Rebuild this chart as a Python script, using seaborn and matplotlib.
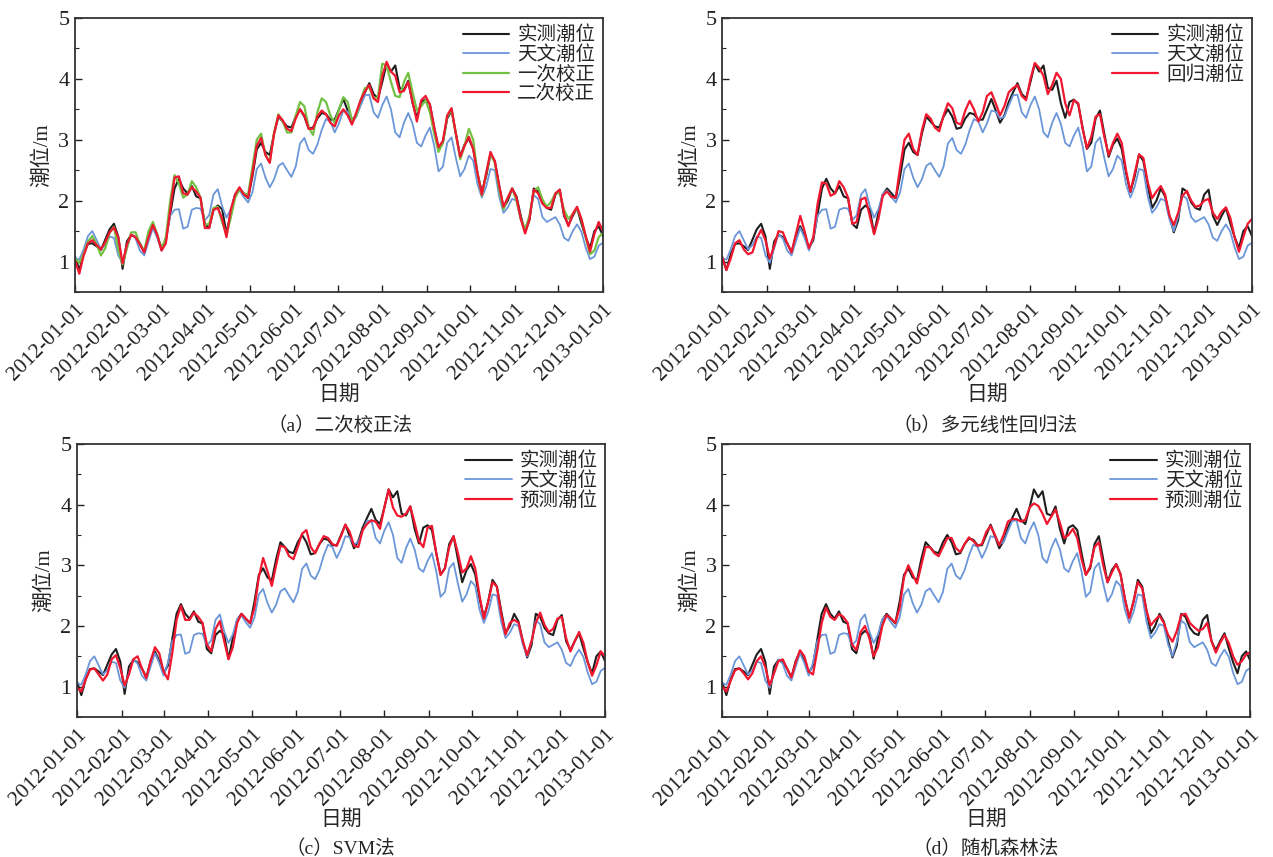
import pandas as pd
import matplotlib
matplotlib.use("Agg")
import matplotlib.pyplot as plt
import matplotlib.dates as mdates
import matplotlib.ticker as mticker
import seaborn as sns

# ── style ─────────────────────────────────────────────────────────────────────
sns.set_theme(style="ticks")
FONTS = ["Liberation Serif", "Noto Sans CJK SC", "DejaVu Sans"]
plt.rcParams["font.family"] = FONTS
plt.rcParams["axes.unicode_minus"] = False

COLORS = {
    "observed": "#1e1e1e",
    "astro":    "#6b96d9",
    "first":    "#72c044",
    "pred":     "#f0172f",
}

# ── data: one value every 3 days, 2012-01-01 .. 2013-01-01 ─────────────────────
dates = pd.date_range("2012-01-01", periods=123, freq="3D")

observed = [
    1.08, 0.86, 1.12, 1.29, 1.30, 1.25, 1.19, 1.36, 1.53, 1.62,
    1.41, 0.88, 1.33, 1.44, 1.40, 1.30, 1.15, 1.42, 1.58, 1.42,
    1.22, 1.35, 1.78, 2.20, 2.36, 2.20, 2.12, 2.24, 2.07, 2.04,
    1.62, 1.55, 1.85, 1.92, 1.86, 1.46, 1.80, 2.10, 2.20, 2.12,
    2.04, 2.40, 2.84, 2.95, 2.80, 2.75, 3.10, 3.38, 3.30, 3.22,
    3.20, 3.38, 3.50, 3.38, 3.18, 3.20, 3.35, 3.44, 3.42, 3.33,
    3.33, 3.50, 3.67, 3.48, 3.28, 3.40, 3.62, 3.78, 3.93, 3.75,
    3.68, 3.95, 4.25, 4.12, 4.22, 3.85, 3.82, 3.97, 3.60, 3.36,
    3.62, 3.66, 3.58, 3.20, 2.85, 2.95, 3.35, 3.48, 3.10, 2.72,
    2.92, 3.02, 2.85, 2.45, 2.14, 2.40, 2.76, 2.65, 2.25, 1.88,
    2.00, 2.20, 2.07, 1.75, 1.48, 1.68, 2.20, 2.15, 1.97, 1.88,
    1.85, 2.10, 2.18, 1.75, 1.60, 1.75, 1.88, 1.63, 1.40, 1.22,
    1.50, 1.58, 1.42,
]

astro = [
    1.06, 1.03, 1.20, 1.42, 1.50, 1.35, 1.20, 1.27, 1.41, 1.39,
    1.10, 0.98, 1.22, 1.45, 1.38, 1.18, 1.10, 1.33, 1.55, 1.39,
    1.18, 1.39, 1.75, 1.85, 1.86, 1.54, 1.57, 1.85, 1.88, 1.87,
    1.68, 1.76, 2.10, 2.19, 1.91, 1.72, 1.86, 2.11, 2.17, 2.06,
    1.97, 2.14, 2.52, 2.61, 2.38, 2.22, 2.35, 2.57, 2.62, 2.50,
    2.39, 2.56, 2.94, 3.03, 2.83, 2.77, 2.92, 3.16, 3.34, 3.30,
    3.12, 3.27, 3.48, 3.46, 3.35, 3.38, 3.56, 3.73, 3.74, 3.45,
    3.36, 3.57, 3.71, 3.50, 3.12, 3.04, 3.28, 3.44, 3.26, 2.95,
    2.89, 3.07, 3.20, 2.90, 2.48, 2.56, 2.95, 3.04, 2.70, 2.40,
    2.52, 2.74, 2.66, 2.27, 2.05, 2.23, 2.52, 2.50, 2.07, 1.80,
    1.89, 2.03, 2.00, 1.69, 1.50, 1.74, 2.09, 2.03, 1.73, 1.65,
    1.69, 1.73, 1.61, 1.39, 1.34, 1.50, 1.61, 1.49, 1.23, 1.04,
    1.08, 1.26, 1.31,
]

first_corr = [
    1.05, 0.98, 1.12, 1.33, 1.42, 1.28, 1.10, 1.22, 1.47, 1.57,
    1.20, 0.95, 1.22, 1.48, 1.48, 1.28, 1.18, 1.50, 1.65, 1.45,
    1.20, 1.40, 2.00, 2.42, 2.28, 2.05, 2.10, 2.32, 2.22, 2.05,
    1.60, 1.62, 1.88, 1.90, 1.65, 1.44, 1.72, 2.05, 2.18, 2.12,
    2.10, 2.55, 3.00, 3.10, 2.75, 2.63, 3.12, 3.42, 3.30, 3.12,
    3.12, 3.40, 3.62, 3.55, 3.20, 3.08, 3.45, 3.68, 3.62, 3.40,
    3.28, 3.50, 3.70, 3.62, 3.32, 3.40, 3.65, 3.85, 3.86, 3.68,
    3.70, 4.25, 4.22, 3.95, 3.72, 3.70, 3.95, 4.10, 3.78, 3.48,
    3.55, 3.65, 3.45, 3.10, 2.80, 2.95, 3.38, 3.50, 3.10, 2.68,
    2.90, 3.18, 3.00, 2.45, 2.08, 2.45, 2.77, 2.62, 2.18, 1.86,
    2.05, 2.20, 2.00, 1.70, 1.53, 1.75, 2.15, 2.22, 2.02, 1.90,
    1.98, 2.12, 2.12, 1.85, 1.70, 1.78, 1.88, 1.70, 1.40, 1.12,
    1.18, 1.40, 1.47,
]

second_corr = [
    1.02, 0.80, 1.10, 1.30, 1.35, 1.27, 1.20, 1.32, 1.48, 1.56,
    1.40, 0.97, 1.28, 1.44, 1.40, 1.28, 1.15, 1.40, 1.60, 1.44,
    1.18, 1.30, 1.85, 2.38, 2.40, 2.12, 2.10, 2.22, 2.15, 2.05,
    1.55, 1.55, 1.85, 1.88, 1.70, 1.40, 1.85, 2.10, 2.22, 2.10,
    2.05, 2.45, 2.90, 3.03, 2.75, 2.62, 3.10, 3.40, 3.32, 3.18,
    3.14, 3.35, 3.50, 3.40, 3.18, 3.18, 3.38, 3.48, 3.42, 3.28,
    3.22, 3.40, 3.50, 3.40, 3.25, 3.45, 3.65, 3.80, 3.90, 3.68,
    3.62, 4.05, 4.28, 4.12, 4.05, 3.78, 3.80, 3.95, 3.62, 3.30,
    3.65, 3.72, 3.58, 3.20, 2.88, 2.98, 3.40, 3.52, 3.10, 2.72,
    2.90, 3.05, 2.85, 2.45, 2.10, 2.45, 2.80, 2.65, 2.25, 1.90,
    2.05, 2.20, 2.05, 1.70, 1.46, 1.70, 2.18, 2.12, 1.95, 1.88,
    1.88, 2.12, 2.18, 1.78, 1.58, 1.78, 1.90, 1.70, 1.42, 1.16,
    1.45, 1.65, 1.50,
]

regression = [
    1.08, 0.86, 1.05, 1.30, 1.35, 1.20, 1.12, 1.15, 1.38, 1.52,
    1.35, 1.05, 1.25, 1.50, 1.48, 1.30, 1.15, 1.45, 1.75, 1.50,
    1.22, 1.40, 1.95, 2.30, 2.28, 2.08, 2.12, 2.32, 2.22, 2.05,
    1.62, 1.65, 2.02, 2.05, 1.75, 1.45, 1.70, 2.08, 2.15, 2.06,
    2.05, 2.55, 3.00, 3.10, 2.85, 2.75, 3.15, 3.42, 3.35, 3.20,
    3.14, 3.40, 3.60, 3.52, 3.28, 3.25, 3.48, 3.64, 3.50, 3.30,
    3.45, 3.72, 3.78, 3.60, 3.40, 3.55, 3.78, 3.85, 3.90, 3.72,
    3.65, 4.00, 4.26, 4.18, 4.05, 3.75, 3.90, 4.10, 4.00, 3.60,
    3.40, 3.65, 3.60, 3.18, 2.86, 3.05, 3.38, 3.42, 3.05, 2.75,
    2.95, 3.10, 2.95, 2.50, 2.15, 2.45, 2.76, 2.70, 2.30, 2.04,
    2.15, 2.24, 2.10, 1.75, 1.60, 1.80, 2.08, 2.16, 2.00, 1.90,
    1.92, 2.00, 2.03, 1.80, 1.70, 1.82, 1.89, 1.72, 1.40, 1.16,
    1.40, 1.62, 1.70,
]

svm = [
    0.98, 0.92, 1.12, 1.28, 1.30, 1.20, 1.10, 1.20, 1.45, 1.52,
    1.30, 1.02, 1.20, 1.45, 1.50, 1.30, 1.14, 1.42, 1.65, 1.55,
    1.25, 1.12, 1.55, 2.10, 2.33, 2.10, 2.10, 2.22, 2.15, 2.05,
    1.70, 1.58, 1.95, 2.08, 1.75, 1.45, 1.65, 2.05, 2.20, 2.12,
    2.05, 2.30, 2.80, 3.12, 2.90, 2.66, 3.00, 3.32, 3.30, 3.15,
    3.10, 3.30, 3.52, 3.58, 3.30, 3.20, 3.35, 3.48, 3.45, 3.35,
    3.32, 3.48, 3.67, 3.55, 3.32, 3.30, 3.58, 3.68, 3.74, 3.72,
    3.60, 3.95, 4.25, 3.95, 3.82, 3.80, 3.85, 3.97, 3.70, 3.40,
    3.30, 3.62, 3.65, 3.20, 2.84, 2.95, 3.30, 3.48, 3.20, 2.88,
    2.95, 3.15, 2.95, 2.50, 2.12, 2.40, 2.72, 2.65, 2.20, 1.86,
    2.05, 2.10, 2.05, 1.75, 1.52, 1.75, 2.05, 2.22, 2.02, 1.90,
    1.95, 2.12, 2.15, 1.80, 1.58, 1.75, 1.90, 1.72, 1.40, 1.18,
    1.35, 1.58, 1.50,
]

forest = [
    1.00, 0.92, 1.10, 1.27, 1.30, 1.22, 1.12, 1.22, 1.42, 1.50,
    1.32, 1.02, 1.22, 1.42, 1.45, 1.30, 1.15, 1.40, 1.60, 1.50,
    1.25, 1.20, 1.60, 2.05, 2.30, 2.15, 2.10, 2.20, 2.15, 2.05,
    1.70, 1.60, 1.90, 2.00, 1.80, 1.50, 1.65, 2.00, 2.18, 2.12,
    2.05, 2.30, 2.80, 3.00, 2.85, 2.70, 3.00, 3.30, 3.30, 3.20,
    3.15, 3.30, 3.45, 3.45, 3.28, 3.22, 3.35, 3.46, 3.40, 3.32,
    3.35, 3.55, 3.65, 3.50, 3.33, 3.50, 3.72, 3.76, 3.76, 3.72,
    3.75, 3.95, 4.02, 3.98, 3.85, 3.68, 3.80, 3.92, 3.70, 3.45,
    3.50, 3.60, 3.45, 3.10, 2.84, 2.98, 3.30, 3.38, 3.00, 2.72,
    2.88, 3.02, 2.85, 2.45, 2.13, 2.40, 2.72, 2.62, 2.25, 2.01,
    2.10, 2.17, 2.05, 1.85, 1.74, 1.92, 2.18, 2.20, 2.05, 1.98,
    1.92, 1.95, 2.05, 1.75, 1.56, 1.72, 1.85, 1.72, 1.50, 1.36,
    1.42, 1.53, 1.57,
]

# panel: (axes rect, caption, caption position, extra series)
PANELS = [
    ([0.0589, 0.6593, 0.4148, 0.3197], "（a）二次校正法", (0.267, 0.503),
     [(first_corr, "一次校正", COLORS["first"]), (second_corr, "二次校正", COLORS["pred"])]),
    ([0.5672, 0.6593, 0.4163, 0.3197], "（b）多元线性回归法", (0.774, 0.503),
     [(regression, "回归潮位", COLORS["pred"])]),
    ([0.0605, 0.1634, 0.4148, 0.3186], "（c）SVM法", (0.267, 0.010),
     [(svm, "预测潮位", COLORS["pred"])]),
    ([0.5672, 0.1634, 0.4151, 0.3186], "（d）随机森林法", (0.774, 0.010),
     [(forest, "预测潮位", COLORS["pred"])]),
]

fig = plt.figure(figsize=(12.73, 8.57), dpi=100)

for rect, caption, (cx, cy), extra in PANELS:
    ax = fig.add_axes(rect)
    sns.lineplot(x=dates, y=observed, color=COLORS["observed"], lw=1.5,
                 label="实测潮位", ax=ax)
    sns.lineplot(x=dates, y=astro, color=COLORS["astro"], lw=1.3,
                 label="天文潮位", ax=ax)
    for vals, name, col in extra:
        sns.lineplot(x=dates, y=vals, color=col, lw=1.6, label=name, ax=ax)

    ax.set_xlim(pd.Timestamp("2012-01-01"), pd.Timestamp("2013-01-01"))
    ax.set_ylim(0.5, 5)
    ax.yaxis.set_major_locator(mticker.MultipleLocator(1))
    ax.yaxis.set_minor_locator(mticker.MultipleLocator(0.5))
    ax.xaxis.set_major_locator(mdates.MonthLocator())
    ax.xaxis.set_major_formatter(mdates.DateFormatter("%Y-%m-%d"))
    ax.tick_params(axis="both", which="major", direction="in", length=5,
                   width=1, colors="#222222")
    ax.tick_params(axis="y", which="minor", direction="in", length=3, width=0.8)
    ax.tick_params(axis="y", labelsize=16, pad=4)
    ax.tick_params(axis="x", labelsize=15.5, pad=6)
    for lab in ax.get_xticklabels():
        lab.set_rotation(45)
        lab.set_ha("right")
        lab.set_va("top")
        lab.set_rotation_mode("anchor")
    for sp in ax.spines.values():
        sp.set_visible(True)
        sp.set_linewidth(1.3)
        sp.set_color("#333333")

    ax.set_xlabel("日期", fontsize=15, labelpad=0)
    ax.set_ylabel("潮位/m", fontsize=15, labelpad=4)

    ax.legend(loc="upper right", frameon=False, prop={"family": FONTS, "size": 14},
              handlelength=2.4, handletextpad=0.4, labelspacing=0.05,
              borderaxespad=0.1, borderpad=0.3)

    fig.text(cx, cy, caption, ha="center", va="center", fontsize=14)

fig.savefig("out.png", dpi=100)
